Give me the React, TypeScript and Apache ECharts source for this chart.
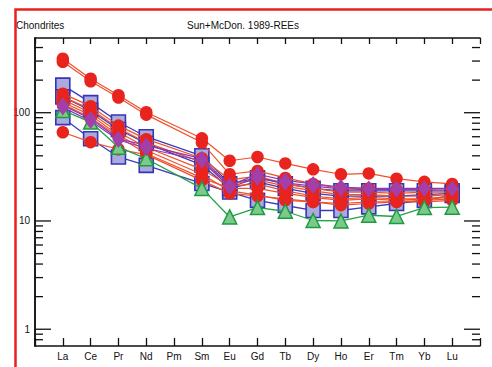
import React, { useEffect, useRef } from "react";
import * as echarts from "echarts";

const elements = ["La", "Ce", "Pr", "Nd", "Pm", "Sm", "Eu", "Gd", "Tb", "Dy", "Ho", "Er", "Tm", "Yb", "Lu"];
const yLabelValues = [1, 10, 100];
const yMajorTicks = [1, 10, 100];
const yMinorTicks = [0.8, 0.9, 2, 3, 4, 5, 6, 7, 8, 9, 20, 30, 40, 50, 60, 70, 80, 90, 200, 300, 400];

const titleLeft = "Chondrites";
const titleCenter = "Sun+McDon. 1989-REEs";

// red circle samples (Pm = null, not analysed)
const red1 = [315, 206, 145, 101, null, 58, 36, 39, 34, 30, 27, 27.5, 24.6, 23, 22];
const red2 = [295, 195, 138, 96, null, 53, 27, 29, 25, 22, 20, 20, 19.5, 19.5, 20];
const red3 = [150, 115, 76, 57, null, 38, 24, 26, 22, 20, 18.5, 18.5, 18, 18.5, 18.5];
const red4 = [140, 108, 72, 53, null, 35, 22, 24, 21, 19, 17.5, 17.5, 17, 17, 17.5];
const red5 = [132, 100, 66, 48, null, 30, 21, 22, 19, 17, 16, 16.5, 16, 16, 16.5];
const red6 = [125, 95, 62, 45, null, 27, 19, 17.3, 15.5, 15, 14.5, 15, 15, 15, 15.5];
const red7 = [66, 53.5, 46, 41, null, 23.7, 18, 17, 16, 15, 14, 14.5, 15, 15.5, 16];
const red8 = [120, 90, 60, 42, null, 25, 20, 20, 18, 16.5, 15.5, 16, 15.5, 16, 17];

// blue square samples
const blue1 = [180, 124, 82, 60, null, 40, 22, 25, 22, 20, 19, 19, 19, 19, 19];
const blue2 = [90, 57.5, 39, 32.6, null, 22.2, 18.5, 15.5, 13.9, 12.5, 12.5, 13.5, 14.5, 15.5, 17.2];
const blue3 = [140, 105, 70, 52, null, 33, 20, 23, 20, 18, 17, 17, 17, 17.5, 18];

// purple diamond samples
const purple1 = [117, 88, 57.5, 50, null, 37.6, 21.3, 27, 23.7, 22, 20.6, 20, 20, 20, 20];
const purple2 = [112, 84, 56, 47, null, 36, 20.5, 25, 22.5, 21, 19.8, 19.5, 19.5, 19.8, 19.8];

// green triangle sample
const green1 = [105, 82, 48, 37.6, null, 20, 10.9, 13.3, 12.3, 10.1, 10, 11.3, 11, 13.3, 13.4];

const redSeries = [red1, red2, red3, red4, red5, red6, red7, red8];
const blueSeries = [blue1, blue2, blue3];
const purpleSeries = [purple1, purple2];
const greenSeries = [green1];

const toPairs = (vals: (number | null)[]) =>
  vals.map((v, i) => (v == null ? null : [i + 1, v])).filter((p) => p !== null);

export default function App() {
  const ref = useRef<HTMLDivElement>(null);

  useEffect(() => {
    if (!ref.current) return;
    const chart = echarts.init(ref.current, null, { renderer: "svg" });

    const mkLine = (vals: (number | null)[], style: any) => ({
      type: "line",
      data: toPairs(vals),
      xAxisIndex: 0,
      yAxisIndex: 0,
      ...style,
    });

    const blueStyle = {
      symbol: "rect",
      symbolSize: 14,
      itemStyle: { color: "#aaaade", borderColor: "#3535b5", borderWidth: 1.6 },
      lineStyle: { color: "#3b3bbb", width: 1.3 },
      z: 2,
    };
    const redStyle = {
      symbol: "circle",
      symbolSize: 12.5,
      itemStyle: { color: "#e9231d" },
      lineStyle: { color: "#f0502c", width: 1.2 },
      z: 3,
    };
    const greenStyle = {
      symbol: "triangle",
      symbolSize: 14,
      itemStyle: { color: "#7acb8b", borderColor: "#1e9a40", borderWidth: 1.5 },
      lineStyle: { color: "#22a244", width: 1.3 },
      z: 4,
    };
    const purpleStyle = {
      symbol: "diamond",
      symbolSize: [12, 16],
      itemStyle: { color: "#a23fa9" },
      lineStyle: { color: "#8a3ab0", width: 1.2 },
      z: 5,
    };

    const tickData = [
      ...yMajorTicks.map((v) => [0, v, 1]),
      ...yMinorTicks.map((v) => [0, v, 0]),
    ];

    const axisLineStyle = { color: "#111", width: 1.5 };

    const option: any = {
      animation: false,
      backgroundColor: "#fff",
      grid: { left: 35, top: 38, right: 12, bottom: 21, containLabel: false },
      xAxis: [
        {
          type: "value",
          min: 0,
          max: 16,
          interval: 1,
          position: "bottom",
          axisLine: { show: true, lineStyle: axisLineStyle },
          axisTick: { show: true, inside: true, length: 8, lineStyle: { color: "#111", width: 1.3 } },
          splitLine: { show: false },
          axisLabel: {
            color: "#111",
            fontSize: 10,
            fontFamily: "Liberation Sans, Arial, sans-serif",
            margin: 5,
            formatter: (v: number) => elements[Math.round(v) - 1] ?? "",
          },
        },
        {
          type: "value",
          min: 0,
          max: 16,
          interval: 1,
          position: "top",
          axisLine: { show: true, lineStyle: axisLineStyle },
          axisTick: { show: true, inside: true, length: 6, lineStyle: { color: "#111", width: 1.3 } },
          splitLine: { show: false },
          axisLabel: { show: false },
        },
      ],
      yAxis: [
        {
          type: "log",
          logBase: 10,
          min: 0.7,
          max: 490,
          position: "left",
          axisLine: { show: true, lineStyle: axisLineStyle },
          axisTick: { show: false },
          splitLine: { show: false },
          axisLabel: {
            color: "#111",
            fontSize: 10,
            fontFamily: "Liberation Sans, Arial, sans-serif",
            margin: 5,
            formatter: (v: number) => {
              const hit = yLabelValues.find((t) => Math.abs(t - v) / t < 1e-6);
              return hit != null ? String(hit) : "";
            },
          },
        },
        {
          type: "log",
          logBase: 10,
          min: 0.7,
          max: 490,
          position: "right",
          axisLine: { show: true, lineStyle: axisLineStyle },
          axisTick: { show: false },
          splitLine: { show: false },
          axisLabel: { show: false },
        },
      ],
      series: [
        ...blueSeries.map((s) => mkLine(s, blueStyle)),
        ...redSeries.map((s) => mkLine(s, redStyle)),
        ...greenSeries.map((s) => mkLine(s, greenStyle)),
        ...purpleSeries.map((s) => mkLine(s, purpleStyle)),
        {
          type: "custom",
          xAxisIndex: 0,
          yAxisIndex: 0,
          silent: true,
          z: 10,
          clip: false,
          data: tickData,
          renderItem: (params: any, api: any) => {
            const v = api.value(1);
            const major = api.value(2) === 1;
            const pt = api.coord([0, v]);
            const cs = params.coordSys;
            const y = pt[1];
            const len = major ? 16 : 8;
            const x0 = cs.x;
            const x1 = cs.x + cs.width;
            const st = { stroke: "#111", lineWidth: 1.3 };
            return {
              type: "group",
              children: [
                { type: "line", shape: { x1: x0, y1: y, x2: x0 + len, y2: y }, style: st },
                { type: "line", shape: { x1: x1 - len, y1: y, x2: x1, y2: y }, style: st },
              ],
            };
          },
        },
      ],
      graphic: [
        {
          type: "text",
          left: 16,
          top: 20,
          style: {
            text: titleLeft,
            fill: "#111",
            font: "10px 'Liberation Sans', Arial, sans-serif",
          },
          z: 20,
        },
        {
          type: "text",
          x: 243,
          y: 25,
          style: {
            text: titleCenter,
            fill: "#111",
            font: "10px 'Liberation Sans', Arial, sans-serif",
            textAlign: "center",
            textVerticalAlign: "middle",
          },
          z: 20,
        },
        {
          type: "rect",
          shape: { x: 15.5, y: 9.5, width: 520, height: 420 },
          style: { fill: "none", stroke: "#e8201f", lineWidth: 2.5 },
          z: 30,
        },
      ],
    };

    chart.setOption(option);
    return () => chart.dispose();
  }, []);

  return (
    <div
      ref={ref}
      style={{ position: "absolute", left: 0, top: 0, width: 492, height: 367 }}
    />
  );
}
